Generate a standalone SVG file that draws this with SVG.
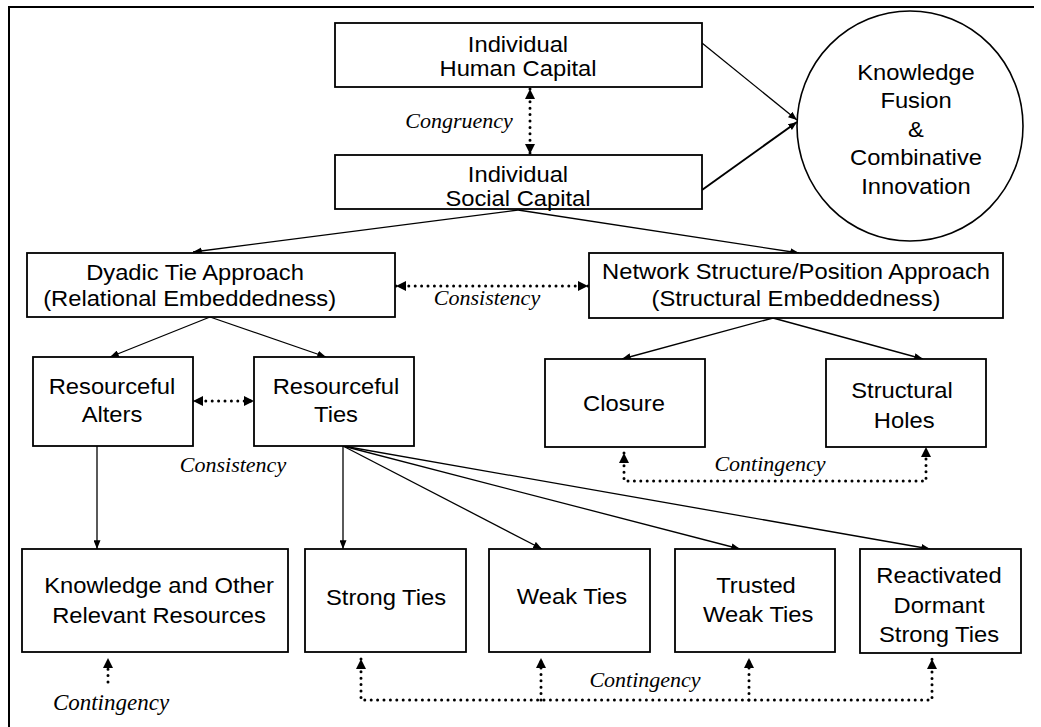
<svg xmlns="http://www.w3.org/2000/svg" width="1041" height="727" viewBox="0 0 1041 727">
  <style>
    .box { fill: #fff; stroke: #000; stroke-width: 1.8; }
    .lbl { font-family: "Liberation Sans", Arial, sans-serif; font-size: 22px; fill: #000; text-anchor: middle; }
    .rel { font-family: "Liberation Serif", "Times New Roman", serif; font-style: italic; font-size: 22px; fill: #000; text-anchor: middle; }
    .link { fill: none; stroke: #000; stroke-width: 1.3; marker-end: url(#head); }
    .dots { fill: none; stroke: #000; stroke-width: 3; stroke-linecap: round; stroke-dasharray: 0 6.4; }
  </style>
  <defs>
    <marker id="head" viewBox="0 0 10 8" refX="10" refY="4" markerWidth="9" markerHeight="7" markerUnits="userSpaceOnUse" orient="auto">
      <path d="M0,0 L10,4 L0,8 z" fill="#000"/>
    </marker>
    <marker id="tri" viewBox="0 0 10 10" refX="10" refY="5" markerWidth="11" markerHeight="10" markerUnits="userSpaceOnUse" orient="auto-start-reverse">
      <path d="M0,0 L10,5 L0,10 z" fill="#000"/>
    </marker>
  </defs>

  <!-- frame -->
  <path d="M9,727 L9,7 L1034,7" fill="none" stroke="#000" stroke-width="2"/>

  <!-- connectors -->
  <g id="connectors">
    <path class="link" d="M702,43 L797,120"/>
    <path class="link" d="M702,190 L797,122" style="stroke-width:2"/>
    <path class="link" d="M518,210 L193,252"/>
    <path class="link" d="M518,210 L799,253"/>
    <path class="link" d="M210,317 L110,357"/>
    <path class="link" d="M210,317 L326,357"/>
    <path class="link" d="M773,318 L622,359"/>
    <path class="link" d="M773,318 L923,359"/>
    <path class="link" d="M97,446 L97,549"/>
    <path class="link" d="M343,446 L343,549"/>
    <path class="link" d="M343,446 L542,549"/>
    <path class="link" d="M343,446 L740,549"/>
    <path class="link" d="M343,446 L930,549"/>

    <!-- dotted relations -->
    <path class="dots" d="M530,89 L530,154" marker-start="url(#tri)" marker-end="url(#tri)"/>
    <path class="dots" d="M396,286 L588,286" marker-start="url(#tri)" marker-end="url(#tri)"/>
    <path class="dots" d="M193,401 L254,401" marker-start="url(#tri)" marker-end="url(#tri)"/>
    <path class="dots" d="M624,453 L624,481 L926,481 L926,447" marker-start="url(#tri)" marker-end="url(#tri)"/>
    <path class="dots" d="M108,682 L108,658" marker-end="url(#tri)"/>
    <path class="dots" d="M361,659 L361,700 L932,700 L932,659" marker-start="url(#tri)" marker-end="url(#tri)"/>
    <path class="dots" d="M541,700 L541,658" marker-end="url(#tri)"/>
    <path class="dots" d="M749,700 L749,658" marker-end="url(#tri)"/>

    <text class="rel" x="459" y="128">Congruency</text>
    <text class="rel" x="487" y="305">Consistency</text>
    <text class="rel" x="233" y="472">Consistency</text>
    <text class="rel" x="770" y="471">Contingency</text>
    <text class="rel" x="111" y="710" style="font-size:23px">Contingency</text>
    <text class="rel" x="645" y="687">Contingency</text>
  </g>

  <g id="human-capital">
    <rect class="box" x="335" y="23" width="367" height="64"/>
    <text class="lbl" transform="translate(518 52) scale(1.08 1)"><tspan x="0" y="0">Individual</tspan><tspan x="0" y="24">Human Capital</tspan></text>
  </g>

  <g id="social-capital">
    <rect class="box" x="335" y="155" width="367" height="54"/>
    <text class="lbl" transform="translate(518 182) scale(1.08 1)"><tspan x="0" y="0">Individual</tspan><tspan x="0" y="24">Social Capital</tspan></text>
  </g>

  <g id="knowledge-fusion">
    <ellipse cx="910" cy="126" rx="113" ry="115" fill="#fff" stroke="#000" stroke-width="1.6"/>
    <text class="lbl" transform="translate(916 80) scale(1.08 1)"><tspan x="0" y="0">Knowledge</tspan><tspan x="0" y="28.5">Fusion</tspan><tspan x="0" y="57">&amp;</tspan><tspan x="0" y="85.5">Combinative</tspan><tspan x="0" y="114">Innovation</tspan></text>
  </g>

  <g id="dyadic-tie">
    <rect class="box" x="27" y="253" width="368" height="64"/>
    <text class="lbl" transform="translate(195 280) scale(1.08 1)"><tspan x="0" y="0">Dyadic Tie Approach</tspan><tspan x="-5" y="26">(Relational Embeddedness)</tspan></text>
  </g>

  <g id="network-structure">
    <rect class="box" x="589" y="253" width="414" height="65"/>
    <text class="lbl" transform="translate(796 279) scale(1.08 1)"><tspan x="0" y="0">Network Structure/Position Approach</tspan><tspan x="0" y="27">(Structural Embeddedness)</tspan></text>
  </g>

  <g id="resourceful-alters">
    <rect class="box" x="33" y="357" width="160" height="89"/>
    <text class="lbl" transform="translate(112 394) scale(1.08 1)"><tspan x="0" y="0">Resourceful</tspan><tspan x="0" y="28">Alters</tspan></text>
  </g>

  <g id="resourceful-ties">
    <rect class="box" x="254" y="357" width="160" height="89"/>
    <text class="lbl" transform="translate(336 394) scale(1.08 1)"><tspan x="0" y="0">Resourceful</tspan><tspan x="0" y="28">Ties</tspan></text>
  </g>

  <g id="closure">
    <rect class="box" x="545" y="359" width="160" height="88"/>
    <text class="lbl" transform="translate(624 411) scale(1.08 1)">Closure</text>
  </g>

  <g id="structural-holes">
    <rect class="box" x="826" y="359" width="160" height="88"/>
    <text class="lbl" transform="translate(902 398) scale(1.08 1)"><tspan x="0" y="0">Structural</tspan><tspan x="2" y="30">Holes</tspan></text>
  </g>

  <g id="knowledge-resources">
    <rect class="box" x="22" y="549" width="266" height="103"/>
    <text class="lbl" transform="translate(159 593) scale(1.08 1)"><tspan x="0" y="0">Knowledge and Other</tspan><tspan x="0" y="30">Relevant Resources</tspan></text>
  </g>

  <g id="strong-ties">
    <rect class="box" x="305" y="549" width="161" height="103"/>
    <text class="lbl" transform="translate(386 605) scale(1.08 1)">Strong Ties</text>
  </g>

  <g id="weak-ties">
    <rect class="box" x="489" y="549" width="161" height="103"/>
    <text class="lbl" transform="translate(572 604) scale(1.08 1)">Weak Ties</text>
  </g>

  <g id="trusted-weak-ties">
    <rect class="box" x="675" y="549" width="160" height="103"/>
    <text class="lbl" transform="translate(756 593) scale(1.08 1)"><tspan x="0" y="0">Trusted</tspan><tspan x="2" y="29">Weak Ties</tspan></text>
  </g>

  <g id="reactivated-dormant">
    <rect class="box" x="860" y="549" width="161" height="104"/>
    <text class="lbl" transform="translate(939 583) scale(1.08 1)"><tspan x="0" y="0">Reactivated</tspan><tspan x="0" y="30">Dormant</tspan><tspan x="0" y="59">Strong Ties</tspan></text>
  </g>
</svg>
